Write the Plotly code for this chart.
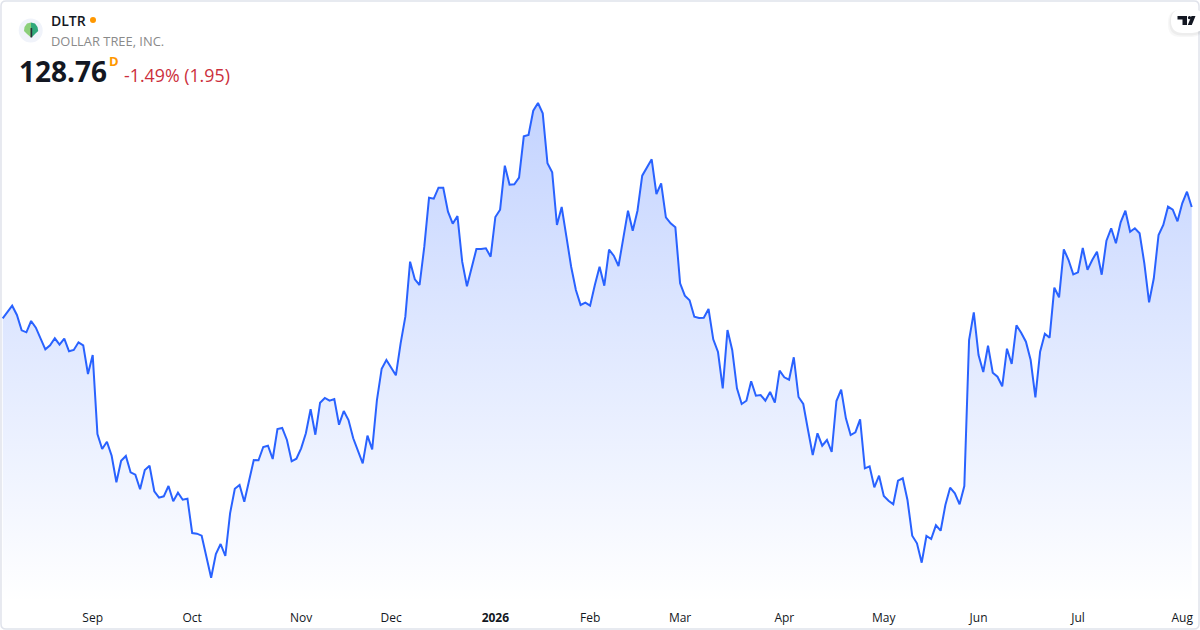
# -*- coding: utf-8 -*-
import plotly.graph_objects as go

W = 1200
H = 630

symbol = "DLTR"
company = "DOLLAR TREE, INC."
last_price = "128.76"
change_text = "-1.49% (1.95)"

# daily closes, one year of sessions
closes = [
    117.63, 118.26, 118.89, 117.96, 116.43, 116.23, 117.36, 116.69, 115.69, 114.53,
    114.93, 115.63, 114.99, 115.59, 114.33, 114.46, 115.23, 114.93, 112.06, 113.96,
    106.06, 104.56, 105.29, 103.89, 101.23, 103.39, 103.86, 102.23, 101.99, 100.53,
    102.46, 102.89, 100.33, 99.69, 99.83, 100.86, 99.33, 100.19, 99.49, 99.59,
    96.16, 96.09, 95.89, 93.89, 91.69, 94.06, 95.06, 93.86, 98.13, 100.59,
    100.96, 99.29, 101.29, 103.46, 103.43, 104.76, 104.89, 103.56, 106.56, 106.66,
    105.46, 103.33, 103.59,
    104.63, 106.13, 108.53, 105.99, 109.19, 109.66, 109.39, 109.56, 106.99, 108.36,
    107.46, 105.63, 104.36, 103.13, 105.89, 104.53, 109.46, 112.59, 113.46, 112.69,
    111.93, 115.13, 117.79, 123.29, 121.53, 120.96, 124.79, 129.69, 129.59, 130.69,
    130.69, 128.29, 127.09, 127.86, 123.29, 120.83, 122.79, 124.56, 124.56, 124.63,
    123.79, 127.76, 128.49, 132.89, 130.99, 131.03, 131.69, 135.83, 135.96, 138.39,
    139.16, 138.13, 133.13, 132.23, 126.96, 128.76, 125.79, 122.79, 120.46, 118.96,
    119.19, 118.89, 120.96, 122.79,
    120.89, 124.49, 123.89, 122.86, 125.63, 128.39, 126.39, 128.39, 131.89, 132.73,
    133.53, 130.06, 131.13, 127.73, 127.13, 126.73, 121.13, 119.89, 119.43, 117.79,
    117.66, 117.69, 118.56, 115.53, 114.26, 110.63, 116.46, 114.46, 110.63, 109.06,
    109.39, 111.33, 109.89, 109.96, 109.39, 110.26, 109.19, 112.39, 111.73, 111.49,
    113.73, 109.76, 109.06, 106.46, 103.96, 106.13, 104.89, 105.46, 104.26, 109.36,
    110.49, 107.63, 105.96, 106.23, 107.53, 102.63, 102.83, 100.73, 101.89,
    99.86, 99.39, 99.03, 101.39, 101.63, 99.46, 95.89, 95.13, 93.19, 95.86,
    95.56, 96.93, 96.39, 98.96, 100.69, 100.13, 99.03, 100.86, 115.46, 118.23,
    113.96, 112.26, 114.89, 112.19, 111.79, 110.83, 114.59, 113.06, 116.93, 116.19,
    115.29, 113.46, 109.73, 114.29, 116.09, 115.69, 120.69, 119.73, 124.53, 123.46,
    122.03, 122.23, 124.66, 122.49, 123.46, 124.29, 121.99, 125.39, 126.63, 125.13,
    127.23, 128.39, 126.29, 126.63, 126.13, 123.13, 119.23, 121.63, 125.96, 126.96,
    128.79, 128.49, 127.33, 129.13, 130.29, 128.76,
]
sessions = list(range(len(closes)))

tick_sessions = [19, 40, 63, 82, 104, 124, 143, 165, 186, 206, 227, 249]
tick_labels = ["Sep", "Oct", "Nov", "Dec", "<b>2026</b>", "Feb", "Mar", "Apr", "May", "Jun", "Jul", "Aug"]


def px_x(x):
    return x / W


def px_y(y):
    return 1 - y / H


def poly(points, color):
    d = "M " + " L ".join(f"{px_x(x):.5f},{px_y(y):.5f}" for x, y in points) + " Z"
    return dict(type="path", xref="paper", yref="paper", path=d, fillcolor=color, line_width=0)


def dot(cx, cy, r, color, layer="above"):
    return dict(type="circle", xref="paper", yref="paper", layer=layer,
                x0=px_x(cx - r), x1=px_x(cx + r), y0=px_y(cy + r), y1=px_y(cy - r),
                fillcolor=color, line_width=0)


def rounded(x0, y0, x1, y1, r, fill, line=None, line_w=0):
    X0, X1, Y0, Y1 = px_x(x0), px_x(x1), px_y(y0), px_y(y1)
    rx, ry = r / W, r / H
    d = (f"M {X0 + rx:.5f},{Y0:.5f} L {X1 - rx:.5f},{Y0:.5f} Q {X1:.5f},{Y0:.5f} {X1:.5f},{Y0 - ry:.5f} "
         f"L {X1:.5f},{Y1 + ry:.5f} Q {X1:.5f},{Y1:.5f} {X1 - rx:.5f},{Y1:.5f} "
         f"L {X0 + rx:.5f},{Y1:.5f} Q {X0:.5f},{Y1:.5f} {X0:.5f},{Y1 + ry:.5f} "
         f"L {X0:.5f},{Y0 - ry:.5f} Q {X0:.5f},{Y0:.5f} {X0 + rx:.5f},{Y0:.5f} Z")
    return dict(type="path", xref="paper", yref="paper", path=d, fillcolor=fill,
                line=dict(color=line or "rgba(0,0,0,0)", width=line_w))


def label(x, y, text, size, color, weight=400):
    font = dict(family="Open Sans", size=size, color=color, weight=weight)
    return dict(xref="paper", yref="paper", x=px_x(x), y=px_y(y), text=text, showarrow=False,
                xanchor="left", yanchor="middle", borderpad=0, font=font)


fig = go.Figure()
fig.add_trace(go.Scatter(
    x=sessions, y=closes, mode="lines", fill="tozeroy",
    line=dict(color="#2962FF", width=2),
    fillgradient=dict(type="vertical", start=139.5, stop=89.2,
                      colorscale=[[0, "rgba(41,98,255,0.28)"], [1, "rgba(41,98,255,0)"]]),
    hoverinfo="skip", showlegend=False,
))

shapes = [
    rounded(1, 1, 1199, 629, 5, "rgba(0,0,0,0)", "#E0E3EB", 1.5),
    # logo
    dot(30.7, 30.5, 12, "#F0F3FA"),
    poly([(31, 22.5), (27, 23.5), (24.5, 27), (24, 31), (27, 34), (30.5, 37), (31, 37)], "#8CCF7A"),
    poly([(31, 22.5), (35, 23.5), (37.5, 27), (38.2, 31), (35, 34), (32, 37), (31, 37)], "#2FA87A"),
    rounded(30.5, 28, 32.2, 37.5, 0.3, "#2A2E39"),
    dot(93, 20, 3, "#FF9800"),
    # badge, soft shadow then the white pill
    rounded(1168, 10, 1204, 37, 12, "rgba(0,0,0,0.03)"),
    rounded(1169.5, 9.5, 1204, 35.5, 12, "rgba(0,0,0,0.04)"),
    rounded(1171, 9, 1204, 33, 12, "#FFFFFF"),
    poly([(1177.5, 16), (1187, 16), (1187, 25), (1182.5, 25), (1182.5, 19.5), (1177.5, 19.5)], "#131722"),
    dot(1189.5, 17.7, 1.6, "#131722"),
    poly([(1191.5, 16), (1195.5, 16), (1191.8, 25), (1187.8, 25)], "#131722"),
]

annotations = [
    label(50, 21, symbol, 14, "#131722", 600),
    label(50, 41, company, 12.9, "#8A8A8A"),
    label(18, 71, last_price, 28, "#131722", 700),
    label(108, 61, "D", 13, "#FF9800", 700),
    label(123, 74.5, change_text, 17.8, "#CC2F3C"),
]

fig.update_layout(
    width=W, height=H,
    margin=dict(l=0, r=0, t=0, b=0),
    paper_bgcolor="#FFFFFF", plot_bgcolor="#FFFFFF",
    shapes=shapes, annotations=annotations,
    xaxis=dict(range=[-0.57, 252.75], showgrid=False, zeroline=False, showline=False,
               tickmode="array", tickvals=tick_sessions, ticktext=tick_labels,
               ticks="", ticklabelstandoff=6,
               tickfont=dict(family="Open Sans", size=12, color="#131722")),
    yaxis=dict(range=[89.16, 149.46], domain=[27 / H, 1], showgrid=False, zeroline=False,
               showline=False, showticklabels=False),
)

# page has a default body margin that would push the chart off the window
fig.write_html("out.html", post_script="document.body.style.margin='0';",
               config={"displayModeBar": False})
